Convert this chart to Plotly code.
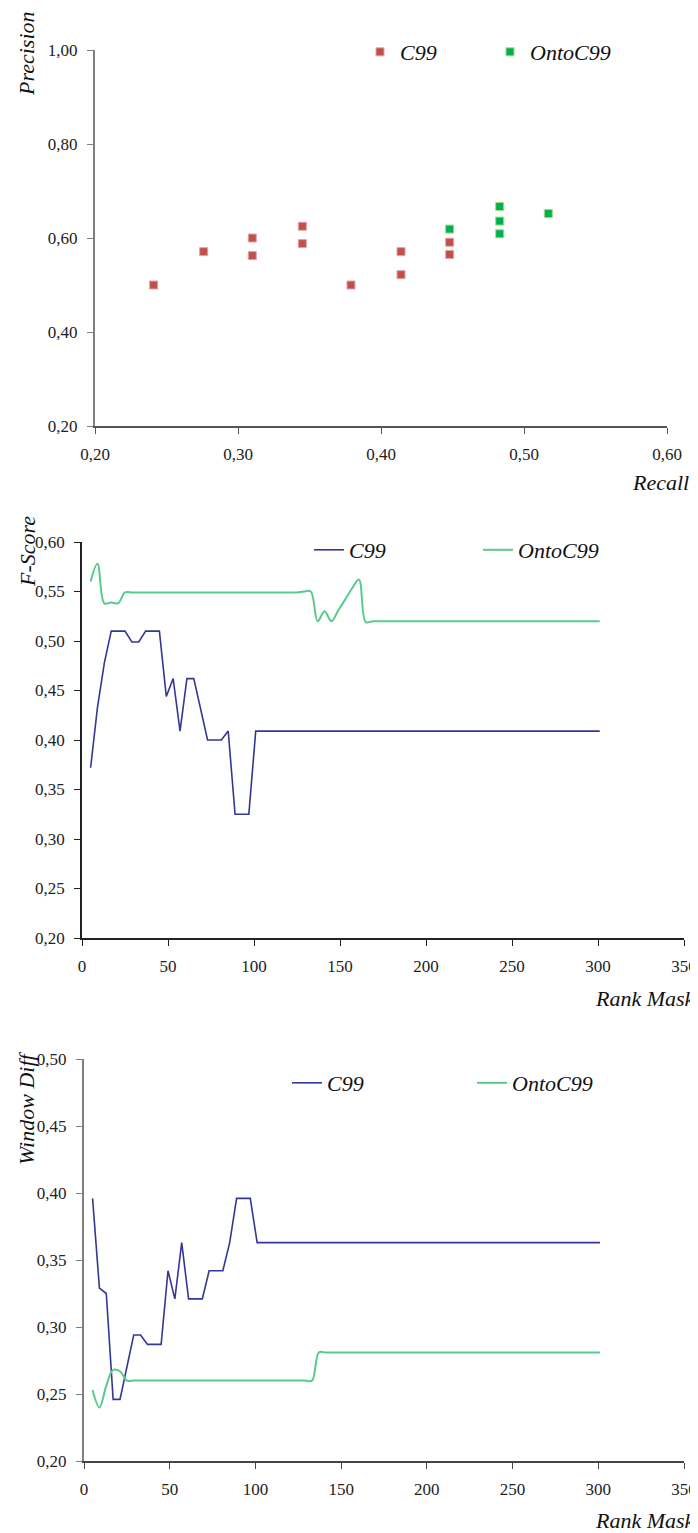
import plotly.graph_objects as go

# Page has an 8px body margin: figure occupies page pixels 8..698 / 8..1533
OFF = 8
W, H = 698 - OFF, 1533 - OFF

# ---------- Data ----------
recall_c99 = [0.241, 0.276, 0.310, 0.310, 0.345, 0.345, 0.379, 0.414, 0.414, 0.448, 0.448]
precision_c99 = [0.500, 0.571, 0.600, 0.5625, 0.625, 0.588, 0.500, 0.571, 0.522, 0.591, 0.565]
recall_onto = [0.448, 0.483, 0.483, 0.483, 0.517]
precision_onto = [0.619, 0.667, 0.636, 0.609, 0.652]

rank_mask = [5, 9, 13, 17, 21, 25, 29, 33, 37, 41, 45, 49, 53, 57, 61, 65, 69, 73, 77, 81,
             85, 89, 93, 97, 101, 105, 109, 113, 117, 121, 125, 129, 133, 137, 141, 145, 149,
             153, 157, 161, 165, 169, 173, 177, 181, 185, 189, 193, 197, 201, 205, 209, 213,
             217, 221, 225, 229, 233, 237, 241, 245, 249, 253, 257, 261, 265, 269, 273, 277,
             281, 285, 289, 293, 297, 301]

fscore_c99 = [0.372, 0.433, 0.478, 0.510, 0.510, 0.510, 0.499, 0.499, 0.510, 0.510, 0.510,
              0.444, 0.462, 0.409, 0.462, 0.462, 0.431, 0.400, 0.400, 0.400, 0.409, 0.325,
              0.325, 0.325, 0.409, 0.409, 0.409, 0.409, 0.409, 0.409, 0.409, 0.409, 0.409,
              0.409, 0.409, 0.409, 0.409, 0.409, 0.409, 0.409, 0.409, 0.409, 0.409, 0.409,
              0.409, 0.409, 0.409, 0.409, 0.409, 0.409, 0.409, 0.409, 0.409, 0.409, 0.409,
              0.409, 0.409, 0.409, 0.409, 0.409, 0.409, 0.409, 0.409, 0.409, 0.409, 0.409,
              0.409, 0.409, 0.409, 0.409, 0.409, 0.409, 0.409, 0.409, 0.409]

fscore_onto = [0.560, 0.578, 0.538, 0.539, 0.538, 0.549, 0.549, 0.549, 0.549, 0.549, 0.549,
               0.549, 0.549, 0.549, 0.549, 0.549, 0.549, 0.549, 0.549, 0.549, 0.549, 0.549,
               0.549, 0.549, 0.549, 0.549, 0.549, 0.549, 0.549, 0.549, 0.549, 0.550, 0.550,
               0.520, 0.530, 0.520, 0.531, 0.542, 0.553, 0.562, 0.519, 0.520, 0.520, 0.520,
               0.520, 0.520, 0.520, 0.520, 0.520, 0.520, 0.520, 0.520, 0.520, 0.520, 0.520,
               0.520, 0.520, 0.520, 0.520, 0.520, 0.520, 0.520, 0.520, 0.520, 0.520, 0.520,
               0.520, 0.520, 0.520, 0.520, 0.520, 0.520, 0.520, 0.520, 0.520]

wdiff_c99 = [0.396, 0.329, 0.325, 0.246, 0.246, 0.270, 0.294, 0.294, 0.287, 0.287, 0.287,
             0.342, 0.321, 0.363, 0.321, 0.321, 0.321, 0.342, 0.342, 0.342, 0.363, 0.396,
             0.396, 0.396, 0.363, 0.363, 0.363, 0.363, 0.363, 0.363, 0.363, 0.363, 0.363,
             0.363, 0.363, 0.363, 0.363, 0.363, 0.363, 0.363, 0.363, 0.363, 0.363, 0.363,
             0.363, 0.363, 0.363, 0.363, 0.363, 0.363, 0.363, 0.363, 0.363, 0.363, 0.363,
             0.363, 0.363, 0.363, 0.363, 0.363, 0.363, 0.363, 0.363, 0.363, 0.363, 0.363,
             0.363, 0.363, 0.363, 0.363, 0.363, 0.363, 0.363, 0.363, 0.363]

wdiff_onto = [0.253, 0.240, 0.256, 0.268, 0.267, 0.260, 0.260, 0.260, 0.260, 0.260, 0.260,
              0.260, 0.260, 0.260, 0.260, 0.260, 0.260, 0.260, 0.260, 0.260, 0.260, 0.260,
              0.260, 0.260, 0.260, 0.260, 0.260, 0.260, 0.260, 0.260, 0.260, 0.260, 0.260,
              0.281, 0.281, 0.281, 0.281, 0.281, 0.281, 0.281, 0.281, 0.281, 0.281, 0.281,
              0.281, 0.281, 0.281, 0.281, 0.281, 0.281, 0.281, 0.281, 0.281, 0.281, 0.281,
              0.281, 0.281, 0.281, 0.281, 0.281, 0.281, 0.281, 0.281, 0.281, 0.281, 0.281,
              0.281, 0.281, 0.281, 0.281, 0.281, 0.281, 0.281, 0.281, 0.281]

# ---------- Styles ----------
SERIF = "Liberation Serif"
RED, RED_EDGE = "#C0504D", "#E2A3A1"
GREEN, GREEN_EDGE = "#00B050", "#A6DC7A"
BLUE_LINE = "#353795"
GREEN_LINE = "#58CB8C"


def px_x(p):
    return (p - OFF) / W


def px_y(p):
    return 1 - (p - OFF) / H


fig = go.Figure()

fig.add_trace(go.Scatter(x=recall_c99, y=precision_c99, mode="markers", name="C99",
                         marker=dict(symbol="square", size=8, color=RED,
                                     line=dict(color=RED_EDGE, width=1)),
                         xaxis="x", yaxis="y", legend="legend"))
fig.add_trace(go.Scatter(x=recall_onto, y=precision_onto, mode="markers", name="OntoC99",
                         marker=dict(symbol="square", size=8, color=GREEN,
                                     line=dict(color=GREEN_EDGE, width=1)),
                         xaxis="x", yaxis="y", legend="legend"))

fig.add_trace(go.Scatter(x=rank_mask, y=fscore_c99, mode="lines", name="C99",
                         line=dict(color=BLUE_LINE, width=1.6),
                         xaxis="x2", yaxis="y2", legend="legend2"))
fig.add_trace(go.Scatter(x=rank_mask, y=fscore_onto, mode="lines", name="OntoC99",
                         line=dict(color=GREEN_LINE, width=2, shape="spline", smoothing=1),
                         xaxis="x2", yaxis="y2", legend="legend2"))

fig.add_trace(go.Scatter(x=rank_mask, y=wdiff_c99, mode="lines", name="C99",
                         line=dict(color=BLUE_LINE, width=1.6),
                         xaxis="x3", yaxis="y3", legend="legend3"))
fig.add_trace(go.Scatter(x=rank_mask, y=wdiff_onto, mode="lines", name="OntoC99",
                         line=dict(color=GREEN_LINE, width=2, shape="spline", smoothing=1),
                         xaxis="x3", yaxis="y3", legend="legend3"))

tickfont = dict(family=SERIF, size=17, color="#222222")


def axis(domain, rng, dtick, anchor, linecolor, linewidth, fmt):
    return dict(domain=domain, range=rng, dtick=dtick, tick0=rng[0], anchor=anchor,
                automargin=False,
                showgrid=False, zeroline=False, showline=True, linecolor=linecolor,
                linewidth=linewidth, ticks="outside", ticklen=6, tickcolor=linecolor,
                tickwidth=1.2, tickfont=tickfont, tickformat=fmt, fixedrange=True,
                ticklabelstandoff=6)


legend_font = dict(family=SERIF, size=22, color="#111111", style="italic")

fig.update_layout(
    width=W, height=H,
    margin=dict(l=0, r=0, t=0, b=0, autoexpand=False),
    paper_bgcolor="white", plot_bgcolor="white",
    separators=", ",
    xaxis=axis([px_x(95), px_x(667)], [0.2, 0.6], 0.1, "y", "#555555", 1.5, ".2f"),
    yaxis=axis([px_y(426), px_y(50)], [0.2, 1.0], 0.2, "x", "#808080", 2.2, ".2f"),
    xaxis2=axis([px_x(82), px_x(684)], [0, 350], 50, "y2", "#222222", 1.5, "d"),
    yaxis2=axis([px_y(938), px_y(542)], [0.2, 0.6], 0.05, "x2", "#222222", 1.5, ".2f"),
    xaxis3=axis([px_x(84), px_x(684)], [0, 350], 50, "y3", "#444444", 1.5, "d"),
    yaxis3=axis([px_y(1461), px_y(1059)], [0.2, 0.5], 0.05, "x3", "#808080", 2.2, ".2f"),
    legend=dict(orientation="h", x=px_x(360), y=px_y(52), xanchor="left", yanchor="middle",
                font=legend_font, bgcolor="rgba(0,0,0,0)", entrywidth=85,
                entrywidthmode="pixels", itemwidth=30),
    legend2=dict(orientation="h", x=px_x(309), y=px_y(550), xanchor="left", yanchor="middle",
                 font=legend_font, bgcolor="rgba(0,0,0,0)", entrywidth=124,
                 entrywidthmode="pixels", itemwidth=30),
    legend3=dict(orientation="h", x=px_x(287), y=px_y(1083), xanchor="left", yanchor="middle",
                 font=legend_font, bgcolor="rgba(0,0,0,0)", entrywidth=140,
                 entrywidthmode="pixels", itemwidth=30),
    showlegend=True,
)

title_font = dict(family=SERIF, size=22, color="#111111", style="italic")
annotations = [
    dict(text="Precision", x=px_x(26), y=px_y(54), textangle=-90),
    dict(text="Recall", x=px_x(660), y=px_y(482), textangle=0),
    dict(text="F-Score", x=px_x(27), y=px_y(552), textangle=-90),
    dict(text="Rank Mask", x=px_x(645), y=px_y(998), textangle=0),
    dict(text="Window Diff", x=px_x(26), y=px_y(1108), textangle=-90),
    dict(text="Rank Mask", x=px_x(645), y=px_y(1520), textangle=0),
]
for a in annotations:
    fig.add_annotation(xref="paper", yref="paper", xanchor="center", yanchor="middle",
                       showarrow=False, font=title_font, **a)

fig.write_html("out.html")
